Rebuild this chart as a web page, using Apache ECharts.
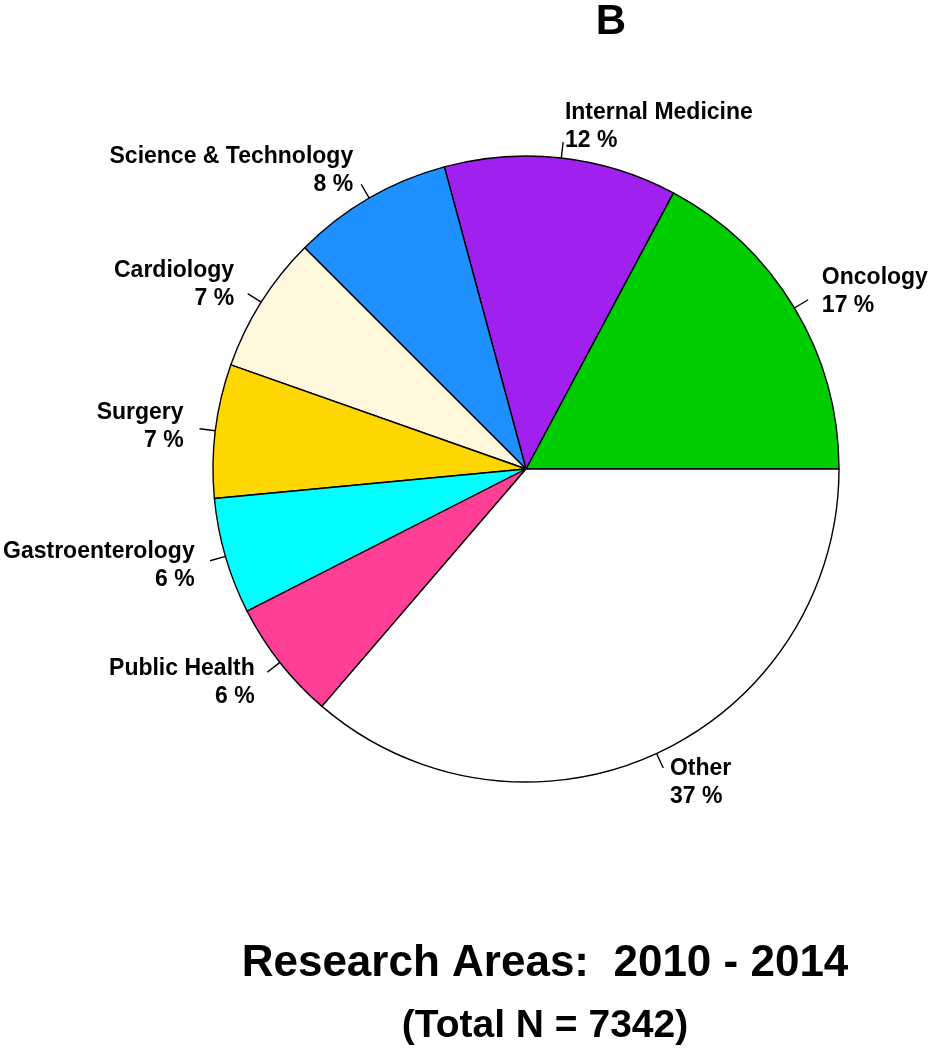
<!DOCTYPE html>
<html>
<head>
<meta charset="utf-8">
<script src="https://cdn.jsdelivr.net/npm/echarts@6/dist/echarts.min.js"></script>
<style>
html,body{margin:0;padding:0;background:#fff;}
#c{width:936px;height:1050px;}
</style>
</head>
<body>
<div id="c"></div>
<script>
const categories = ['Oncology', 'Internal Medicine', 'Science & Technology', 'Cardiology', 'Surgery', 'Gastroenterology', 'Public Health', 'Other'];
const shares = [17.2, 12.0, 8.3, 7.1, 6.9, 6.0, 6.2, 36.3];
const pctLabels = [17, 12, 8, 7, 7, 6, 6, 37];
const colors = ['#00CD00', '#A020F0', '#1E90FF', '#FFF8DC', '#FFD700', '#00FFFF', '#FF3E96', '#FFFFFF'];
const panelTitle = 'B';
const mainTitle = 'Research Areas:  2010 - 2014';
const subTitle = '(Total N = 7342)';

const FONT = "'Liberation Sans', Arial, Helvetica, sans-serif";
const chart = echarts.init(document.getElementById('c'), null, {renderer: 'canvas'});
const R = 313;
const CENTER = [526, 469];

const dataSlices = categories.map((n, i) => ({name: n, value: shares[i], itemStyle: {color: colors[i]}}));
const dataLabels = categories.map((n, i) => ({name: n, value: shares[i], pct: pctLabels[i]}));

chart.setOption({
  backgroundColor: '#ffffff',
  animation: false,
  graphic: [
    {type: 'text', x: 611, y: 22, style: {text: panelTitle, font: "bold 42px " + FONT, fill: '#000', textAlign: 'center', textVerticalAlign: 'middle'}},
    {type: 'text', x: 545, y: 964, style: {text: mainTitle, font: "bold 44px " + FONT, fill: '#000', textAlign: 'center', textVerticalAlign: 'middle'}},
    {type: 'text', x: 545, y: 1026, style: {text: subTitle, font: "bold 39px " + FONT, fill: '#000', textAlign: 'center', textVerticalAlign: 'middle'}}
  ],
  series: [
    {
      type: 'pie',
      center: CENTER,
      radius: R,
      startAngle: 0,
      clockwise: false,
      avoidLabelOverlap: false,
      silent: true,
      itemStyle: {borderColor: '#000', borderWidth: 1.4},
      label: {show: true, position: 'outside', formatter: ' ', fontSize: 1},
      labelLine: {show: true, length: 16, length2: 0, smooth: false, lineStyle: {color: '#000', width: 1.4}},
      labelLayout: {hideOverlap: false},
      emphasis: {disabled: true},
      data: dataSlices
    },
    {
      type: 'pie',
      center: CENTER,
      radius: R,
      startAngle: 0,
      clockwise: false,
      avoidLabelOverlap: false,
      silent: true,
      z: 3,
      itemStyle: {color: 'rgba(0,0,0,0)', borderWidth: 0},
      label: {
        show: true,
        position: 'outside',
        distanceToLabelLine: 0,
        fontFamily: FONT,
        fontWeight: 'bold',
        fontSize: 23,
        lineHeight: 28,
        color: '#000',
        formatter: p => p.name + '\n' + p.data.pct + ' %'
      },
      labelLine: {show: false, length: 32, length2: 0},
      labelLayout: {hideOverlap: false},
      emphasis: {disabled: true},
      data: dataLabels
    }
  ]
});
</script>
</body>
</html>
